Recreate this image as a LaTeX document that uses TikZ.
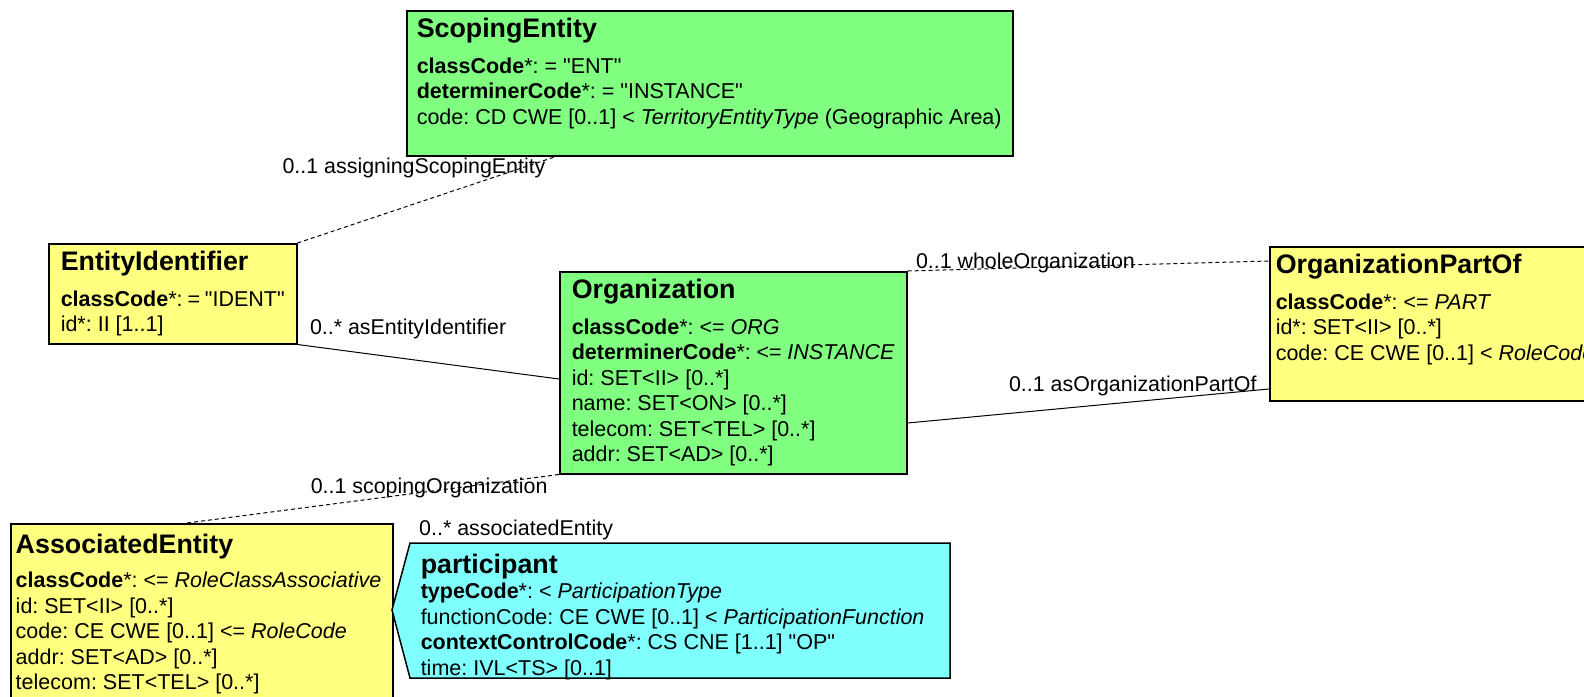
\documentclass[tikz,border=0pt]{standalone}
\usepackage{fontspec}
\setmainfont{Liberation Sans}
\frenchspacing

\definecolor{entgreen}{RGB}{128,255,128}
\definecolor{roleyellow}{RGB}{255,255,128}
\definecolor{partcyan}{RGB}{128,255,255}

\newcommand{\clsname}[1]{{\fontsize{26.8}{30}\selectfont\bfseries #1\par}}
\newcommand{\clsbody}[3]{\parbox[t][#2][t]{#1}{#3}}
\newcommand{\qt}[1]{\textquotedbl#1\textquotedbl}

\tikzset{
  cls/.style={draw, line width=1.5pt, anchor=north west, inner xsep=10pt, inner ysep=7pt,
    font=\fontsize{21.5}{25.5}\selectfont},
  entity/.style={cls, fill=entgreen},
  role/.style={cls, fill=roleyellow},
  assoc/.style={line width=1pt},
  scoper/.style={assoc, dash pattern=on 4pt off 3pt},
  lbl/.style={inner sep=0pt, font=\fontsize{21.4}{25}\selectfont}
}

\begin{document}
\begin{tikzpicture}[x=1pt, y=-1pt]
\useasboundingbox (0,0) rectangle (1584,696);
\clip (0,0) rectangle (1584,696);

% Klassen
\node[entity] (scoping) at (406,10) {\clsbody{586pt}{131pt}{\clsname{ScopingEntity}\vspace{10.5pt}%
  \textbf{classCode}*: = \qt{ENT}\\
  \textbf{determinerCode}*: = \qt{INSTANCE}\\
  code: CD CWE [0..1] < \textit{TerritoryEntityType} (Geographic Area)}};

\node[role, inner xsep=12pt] (ei) at (48,243) {\clsbody{224pt}{86pt}{\clsname{EntityIdentifier}\vspace{10.5pt}%
  \textbf{classCode}*: = \qt{IDENT}\\
  id*: II [1..1]}};

\node[entity, inner xsep=12pt] (org) at (559,271) {\clsbody{323pt}{188pt}{\clsname{Organization}\vspace{10.5pt}%
  \textbf{classCode}*: <= \textit{ORG}\\
  \textbf{determinerCode}*: <= \textit{INSTANCE}\\
  id: SET<II> [0..*]\\
  name: SET<ON> [0..*]\\
  telecom: SET<TEL> [0..*]\\
  addr: SET<AD> [0..*]}};

\node[role, inner xsep=6pt] (opo) at (1269,246) {\clsbody{348pt}{140pt}{\clsname{OrganizationPartOf}\vspace{10.5pt}%
  \textbf{classCode}*: <= \textit{PART}\\
  id*: SET<II> [0..*]\\
  code: CE CWE [0..1] < \textit{RoleCode}}};

\node[role, inner xsep=5pt, inner ysep=10pt] (ae) at (10,523) {\clsbody{372pt}{170pt}{\clsname{AssociatedEntity}\vspace{9pt}%
  \textbf{classCode}*: <= \textit{RoleClassAssociative}\\
  id: SET<II> [0..*]\\
  code: CE CWE [0..1] <= \textit{RoleCode}\\
  addr: SET<AD> [0..*]\\
  telecom: SET<TEL> [0..*]}};

% Participation
\draw[line width=1.5pt, fill=partcyan] (410,543) -- (950,543) -- (950,678) -- (410,678) -- (392,610) -- cycle;
\node[cls, draw=none, inner ysep=10pt] (participant) at (410,543) {\clsbody{520pt}{115pt}{\clsname{participant}%
  \textbf{typeCode}*: < \textit{ParticipationType}\\
  functionCode: CE CWE [0..1] < \textit{ParticipationFunction}\\
  \textbf{contextControlCode}*: CS CNE [1..1] \qt{OP}\\
  time: IVL<TS> [0..1]}};
\node[lbl, anchor=base west] (lblAssocEnt) at (419,535) {0..* associatedEntity};

% Assoziationen
\draw[scoper] (ei.north east) -- node[lbl, pos=1, anchor=base east, xshift=-10pt, yshift=-17pt] (lblAssigning) {0..1 assigningScopingEntity} ([xshift=150pt]scoping.south west);
\draw[assoc] (ei.south east) -- node[lbl, pos=0, anchor=base west, xshift=12pt, yshift=10pt] (lblAsEI) {0..* asEntityIdentifier} ([yshift=-108pt]org.north west);
\draw[scoper] (org.north east) -- node[lbl, pos=0, anchor=base west, xshift=8pt, yshift=3pt] (lblWhole) {0..1 wholeOrganization} ([yshift=-15pt]opo.north west);
\draw[assoc] ([yshift=-152pt]org.north east) -- node[lbl, pos=1, anchor=base east, xshift=-12pt, yshift=-2pt] (lblAsOPO) {0..1 asOrganizationPartOf} ([yshift=-143pt]opo.north west);
\draw[scoper] ([xshift=177pt]ae.north west) -- node[lbl, pos=1, anchor=base east, xshift=-11pt, yshift=-19pt] (lblScopingOrg) {0..1 scopingOrganization} (org.south west);

\end{tikzpicture}
\end{document}
